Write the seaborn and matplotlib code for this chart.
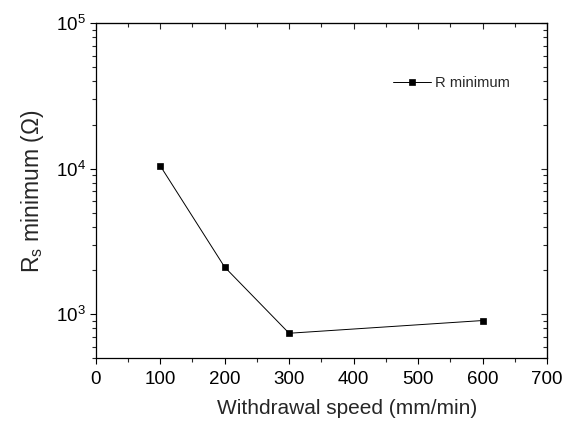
import matplotlib
matplotlib.use("Agg")
import matplotlib.pyplot as plt
import seaborn as sns
import pandas as pd
from matplotlib.ticker import LogLocator, MultipleLocator, NullFormatter

speed = [100, 200, 300, 600]
r_min = [10500, 2110, 740, 905]
series_label = "R minimum"
x_label = "Withdrawal speed (mm/min)"
y_label = "R$_\\mathregular{s}$ minimum (Ω)"

sns.set_style("ticks")
plt.rcParams['font.family'] = ['Liberation Sans', 'DejaVu Sans']
plt.rcParams['mathtext.default'] = 'regular'
plt.rcParams['mathtext.fontset'] = 'custom'
plt.rcParams['mathtext.rm'] = 'Liberation Sans'

df = pd.DataFrame({"speed": speed, "r": r_min})

fig = plt.figure(figsize=(5.72, 4.21), dpi=100)
ax = fig.add_axes([0.1673, 0.1496, 0.789, 0.795])
sns.lineplot(data=df, x="speed", y="r", marker="s", markersize=4.8, color="black",
             linewidth=0.7, markeredgecolor="black", markeredgewidth=0.5,
             label=series_label, ax=ax)
ax.set_yscale("log")
ax.set_xlim(0, 700)
ax.set_ylim(500, 1e5)
ax.xaxis.set_major_locator(MultipleLocator(100))
ax.xaxis.set_minor_locator(MultipleLocator(50))
ax.yaxis.set_major_locator(LogLocator(base=10, numticks=10))
ax.yaxis.set_minor_locator(LogLocator(base=10, subs=range(2, 10), numticks=20))
ax.yaxis.set_minor_formatter(NullFormatter())
ax.tick_params(which="major", direction="out", length=4.2, width=0.8, labelsize=13.5, pad=3, colors="black")
ax.tick_params(axis="x", which="major", pad=5.5)
ax.tick_params(which="minor", direction="out", length=2.6, width=0.8)
for s in ax.spines.values():
    s.set_linewidth(0.9)
    s.set_color("black")
ax.set_xlabel(x_label, fontsize=15)
ax.xaxis.set_label_coords(0.558, -0.122)
ax.set_ylabel(y_label, fontsize=16.5, labelpad=7)

top = ax.secondary_xaxis('top')
top.xaxis.set_major_locator(MultipleLocator(100))
top.xaxis.set_minor_locator(MultipleLocator(50))
top.tick_params(which="major", direction="in", length=4.2, width=0.8, labeltop=False)
top.tick_params(which="minor", direction="in", length=2.6, width=0.8)
right = ax.secondary_yaxis('right')
right.yaxis.set_major_locator(LogLocator(base=10, numticks=10))
right.yaxis.set_minor_locator(LogLocator(base=10, subs=range(2, 10), numticks=20))
right.tick_params(which="major", direction="in", length=4.2, width=0.8, labelright=False)
right.tick_params(which="minor", direction="in", length=2.6, width=0.8, labelright=False)

ax.legend(loc="center left", bbox_to_anchor=(0.658, 0.822), frameon=False, fontsize=10.6,
          handlelength=2.6, handletextpad=0.3, borderpad=0, borderaxespad=0)

fig.savefig("out.png", dpi=100)
